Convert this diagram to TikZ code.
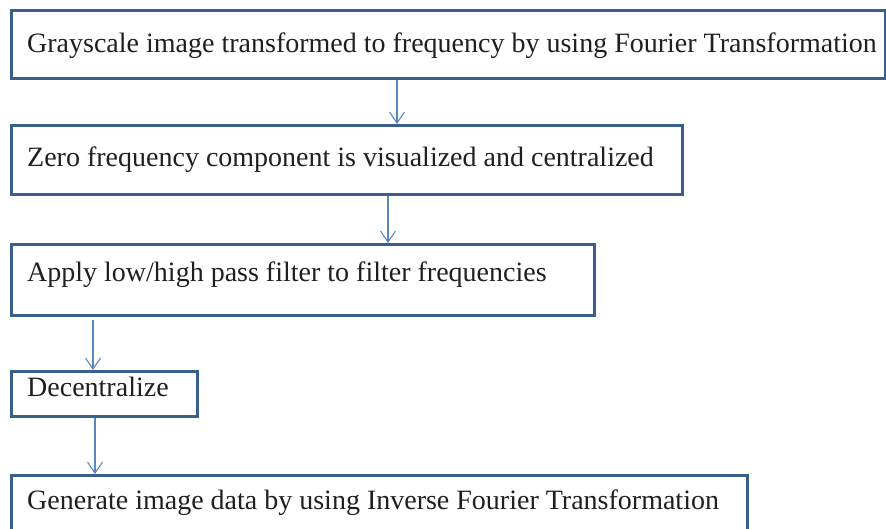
\documentclass[tikz,border=0pt]{standalone}
\usepackage{fontspec}
\setmainfont{Liberation Serif}
\usetikzlibrary{arrows.meta}
\definecolor{boxc}{HTML}{3A5F8E}
\definecolor{arrc}{HTML}{5B87C0}
\tikzset{
 box/.style={draw=boxc, line width=3pt, rectangle, inner sep=0pt, anchor=north west},
 lbl/.style={anchor=base west, inner sep=0pt, font=\fontsize{28}{30}\selectfont, text=black!88},
 arr/.style={draw=arrc, line width=1.1pt, -{Straight Barb[length=11pt,width=15pt,line width=1.1pt]}},
}
\begin{document}
\begin{tikzpicture}[x=1pt,y=-1pt]
\useasboundingbox (0,0) rectangle (886,529);
\clip (0,0) rectangle (886,529);
\node[box, minimum width=874pt, minimum height=68pt] (b1) at (10,9) {};
\node[box, minimum width=671pt, minimum height=69pt] (b2) at (10,124) {};
\node[box, minimum width=583pt, minimum height=71pt] (b3) at (10,243) {};
\node[box, minimum width=186pt, minimum height=45pt] (b4) at (10,370) {};
\node[box, minimum width=736pt, minimum height=70pt] (b5) at (10,474) {};
\node[lbl] (t1) at (27,53) {Grayscale image transformed to frequency by using Fourier Transformation};
\node[lbl] (t2) at (27,167) {Zero frequency component is visualized and centralized};
\node[lbl] (t3) at (27,282) {Apply low/high pass filter to filter frequencies};
\node[lbl] (t4) at (27,396) {Decentralize};
\node[lbl] (t5) at (27,509) {Generate image data by using Inverse Fourier Transformation};
\draw[arr] ([xshift=387pt]b1.south west) -- ([xshift=387pt]b2.north west);
\draw[arr] ([xshift=378pt]b2.south west) -- ([xshift=378pt]b3.north west);
\draw[arr, shorten <=3pt] ([xshift=83pt]b3.south west) -- ([xshift=83pt]b4.north west);
\draw[arr] ([xshift=85pt]b4.south west) -- ([xshift=85pt]b5.north west);
\end{tikzpicture}
\end{document}
